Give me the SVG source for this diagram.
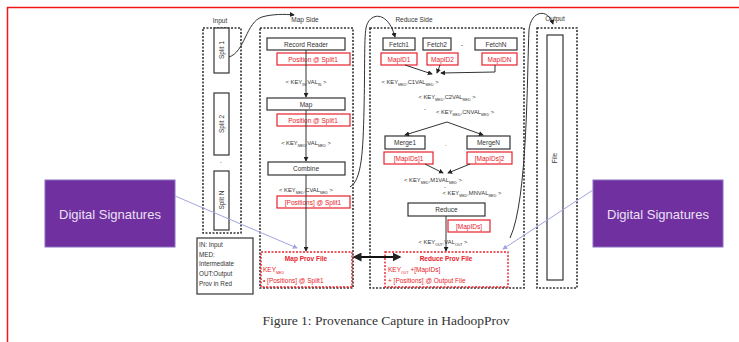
<svg xmlns="http://www.w3.org/2000/svg" width="739" height="342" viewBox="0 0 739 342">
<style>
text{font-family:"Liberation Sans",Arial,sans-serif;fill:#333;}
.lbl{font-size:6.5px;text-anchor:middle;}
.leg{font-size:6.3px;}
.box{fill:#fff;stroke:#333;stroke-width:1.2;}
.red{fill:#fff;stroke:#e8202a;stroke-width:1.2;}
.rt{fill:#e8202a;font-size:6.5px;text-anchor:middle;}
.rtl{fill:#e8202a;font-size:6.5px;text-anchor:start;}
.dash{fill:none;stroke:#333;stroke-width:1.6;stroke-dasharray:2 1.5;}
.rdash{fill:none;stroke:#e8202a;stroke-width:1.4;stroke-dasharray:2 1.5;}
.kv{font-size:5.8px;text-anchor:middle;}
.sub{font-size:3.6px;}
.ln{fill:none;stroke:#333;stroke-width:1;}
.sig{fill:#7030a0;stroke:#8a70c0;stroke-width:1;}
.sigt{fill:#ece0f4;font-size:13px;text-anchor:middle;}
.blue{fill:none;stroke:#a0a4e0;stroke-width:1;}
.cap{font-family:"Liberation Serif","Times New Roman",serif;font-size:13.5px;text-anchor:middle;fill:#333;}
</style>
<defs>
<marker id="ah" viewBox="0 0 6 6" refX="5" refY="3" markerWidth="5" markerHeight="5" orient="auto-start-reverse"><path d="M0,0 L6,3 L0,6 z" fill="#222"/></marker>
<marker id="bh" viewBox="0 0 6 6" refX="5" refY="3" markerWidth="5" markerHeight="5" orient="auto"><path d="M0,0 L6,3 L0,6 z" fill="#a0a4e0"/></marker>
</defs>
<rect x="0" y="0" width="739" height="342" fill="#fff"/>
<polyline points="7.5,342 7.5,7.5 739,7.5" fill="none" stroke="#f01818" stroke-width="1.5"/>

<g id="input">
<text x="220" y="23" class="lbl">Input</text>
<rect x="203" y="28" width="38" height="205" class="dash"/>
<rect x="214" y="28" width="15" height="45" class="box"/>
<text class="lbl" transform="translate(224,50) rotate(-90)">Split 1</text>
<rect x="214" y="93" width="15" height="62" class="box"/>
<text class="lbl" transform="translate(224,124) rotate(-90)">Split 2</text>
<text class="lbl" x="221" y="163">.</text>
<rect x="214" y="171" width="15" height="59" class="box"/>
<text class="lbl" transform="translate(224,200) rotate(-90)">Split N</text>
</g>

<g id="legend">
<rect x="197" y="238" width="56" height="56" class="box"/>
<text x="199" y="247" class="leg">IN: Input</text>
<text x="199" y="257" class="leg">MED:</text>
<text x="199" y="266" class="leg">Intermediate</text>
<text x="199" y="276" class="leg">OUT:Output</text>
<text x="199" y="286" class="leg">Prov in Red</text>
</g>

<g id="map-side">
<text x="305" y="22" class="lbl">Map Side</text>
<rect x="260" y="28" width="93" height="260" class="dash"/>
</g>
<g id="record-reader">
<rect x="267" y="38" width="78" height="12" class="box"/>
<text x="306" y="46.5" class="lbl">Record Reader</text>
<rect x="277" y="53" width="73" height="12" class="red"/>
<text x="313" y="61.5" class="rt">Position @ Split1</text>
</g>
<g id="map">
<rect x="267" y="98" width="78" height="12" class="box"/>
<text x="306" y="106.5" class="lbl">Map</text>
<rect x="277" y="114" width="73" height="12" class="red"/>
<text x="313" y="122.5" class="rt">Position @ Split1</text>
</g>
<g id="combine">
<rect x="268" y="162" width="77" height="13" class="box"/>
<text x="306" y="171" class="lbl">Combine</text>
<rect x="277" y="196" width="73" height="12" class="red"/>
<text x="313" y="204.5" class="rt">[Positions] @ Split1</text>
</g>
<g id="map-prov-file">
<rect x="261" y="252" width="91" height="35" class="rdash"/>
<text x="306" y="261" class="rt" font-weight="bold">Map Prov File</text>
<text x="263" y="272" class="rtl">KEY<tspan class="sub" dy="1.5">MED</tspan></text>
<text x="263" y="283" class="rtl">• [Positions] @ Split1</text>
</g>

<g id="reduce-side">
<text x="414" y="22" class="lbl">Reduce Side</text>
<rect x="370" y="28" width="154" height="260" class="dash"/>
</g>
<g id="fetch1">
<rect x="383" y="38" width="32" height="12" class="box"/>
<text x="399" y="46.5" class="lbl">Fetch1</text>
<rect x="381" y="53" width="36" height="12" class="red"/>
<text x="399" y="61.5" class="rt">MapID1</text>
</g>
<g id="fetch2">
<rect x="423" y="38" width="28" height="12" class="box"/>
<text x="437" y="46.5" class="lbl">Fetch2</text>
<rect x="427" y="53" width="31" height="12" class="red"/>
<text x="442.5" y="61.5" class="rt">MapID2</text>
</g>
<text x="462" y="47" class="lbl">-</text>
<g id="fetchN">
<rect x="475" y="38" width="42" height="12" class="box"/>
<text x="496" y="46.5" class="lbl">FetchN</text>
<rect x="482" y="53" width="35" height="12" class="red"/>
<text x="499.5" y="61.5" class="rt">MapIDN</text>
</g>
<g id="merge1">
<rect x="385" y="136" width="40" height="13" class="box"/>
<text x="405" y="145" class="lbl">Merge1</text>
<rect x="384" y="152" width="49" height="12" class="red"/>
<text x="408.5" y="160.5" class="rt">[MapIDs]1</text>
</g>
<text x="446" y="146" class="rt">.</text>
<g id="mergeN">
<rect x="467" y="136" width="43" height="13" class="box"/>
<text x="488.5" y="145" class="lbl">MergeN</text>
<rect x="467" y="152" width="45" height="12" class="red"/>
<text x="489.5" y="160.5" class="rt">[MapIDs]2</text>
</g>
<g id="reduce">
<rect x="408" y="203" width="77" height="13" class="box"/>
<text x="446.5" y="212" class="lbl">Reduce</text>
<rect x="448" y="220" width="42" height="12" class="red"/>
<text x="469" y="228.5" class="rt">[MapIDs]</text>
</g>
<g id="reduce-prov-file">
<rect x="385" y="252" width="123" height="35" class="rdash"/>
<text x="446" y="261" class="rt" font-weight="bold">Reduce Prov File</text>
<text x="388" y="272" class="rtl">KEY<tspan class="sub" dy="1.5">OUT</tspan><tspan dy="-1.5"> +[MapIDs]</tspan></text>
<text x="388" y="283" class="rtl">+ [Positions] @ Output File</text>
</g>

<g id="output">
<text x="555" y="21" class="lbl">Output</text>
<rect x="537" y="28" width="40" height="260" class="dash"/>
<rect x="547" y="35" width="16" height="245" class="box"/>
<text class="lbl" transform="translate(557,158) rotate(-90)">File</text>
</g>

<g id="sig-left">
<rect x="45" y="180" width="130" height="67" class="sig"/>
<text x="110" y="219" class="sigt">Digital Signatures</text>
</g>
<g id="sig-right">
<rect x="593" y="180" width="130" height="67" class="sig"/>
<text x="658" y="219" class="sigt">Digital Signatures</text>
</g>

<g id="labels">
<text x="306" y="84" class="kv">&lt; KEY<tspan class="sub" dy="1.5">IN</tspan><tspan dy="-1.5">,VAL</tspan><tspan class="sub" dy="1.5">IN</tspan><tspan dy="-1.5"> &gt;</tspan></text>
<text x="306" y="145" class="kv">&lt; KEY<tspan class="sub" dy="1.5">MED</tspan><tspan dy="-1.5">,VAL</tspan><tspan class="sub" dy="1.5">MED</tspan><tspan dy="-1.5"> &gt;</tspan></text>
<text x="306" y="192" class="kv">&lt; KEY<tspan class="sub" dy="1.5">MED</tspan><tspan dy="-1.5">,CVAL</tspan><tspan class="sub" dy="1.5">MED</tspan><tspan dy="-1.5"> &gt;</tspan></text>
<text x="410" y="84" class="kv">&lt; KEY<tspan class="sub" dy="1.5">MED</tspan><tspan dy="-1.5">,C1VAL</tspan><tspan class="sub" dy="1.5">MED</tspan><tspan dy="-1.5"> &gt;</tspan></text>
<text x="447" y="99" class="kv">&lt; KEY<tspan class="sub" dy="1.5">MED</tspan><tspan dy="-1.5">,C2VAL</tspan><tspan class="sub" dy="1.5">MED</tspan><tspan dy="-1.5"> &gt;</tspan></text>
<text x="425" y="111" class="kv">-</text>
<text x="465" y="114" class="kv">&lt; KEY<tspan class="sub" dy="1.5">MED</tspan><tspan dy="-1.5">,CNVAL</tspan><tspan class="sub" dy="1.5">MED</tspan><tspan dy="-1.5"> &gt;</tspan></text>
<text x="433" y="182" class="kv">&lt; KEY<tspan class="sub" dy="1.5">MED</tspan><tspan dy="-1.5">,M1VAL</tspan><tspan class="sub" dy="1.5">MED</tspan><tspan dy="-1.5"> &gt;</tspan></text>
<text x="445" y="189" class="kv">-</text>
<text x="472" y="195" class="kv">&lt; KEY<tspan class="sub" dy="1.5">MED</tspan><tspan dy="-1.5">,MNVAL</tspan><tspan class="sub" dy="1.5">MED</tspan><tspan dy="-1.5"> &gt;</tspan></text>
<text x="443" y="244" class="kv">&lt; KEY<tspan class="sub" dy="1.5">OUT</tspan><tspan dy="-1.5">,VAL</tspan><tspan class="sub" dy="1.5">OUT</tspan><tspan dy="-1.5"> &gt;</tspan></text>
</g>

<g id="connectors">
<line x1="306" y1="50" x2="306" y2="97" class="ln" marker-end="url(#ah)"/>
<line x1="306" y1="110" x2="306" y2="161" class="ln" marker-end="url(#ah)"/>
<line x1="306" y1="175" x2="306" y2="251" class="ln" marker-end="url(#ah)"/>
<line x1="446" y1="216" x2="446" y2="251" class="ln" marker-end="url(#ah)"/>
<line x1="354" y1="257" x2="400" y2="257" fill="none" stroke="#111" stroke-width="1.8" marker-start="url(#ah)" marker-end="url(#ah)"/>
<path d="M229,57 C245,52 246,22 262,17 C272,14 285,14 294,15" class="ln" marker-end="url(#ah)"/>
<path d="M350,187 C362,180 363,150 364,110 C365,70 364,40 366,28 C369,12 388,10 395,37" class="ln" marker-end="url(#ah)"/>
<path d="M510,238 C528,200 527,70 529,30 C531,10 548,8 553,24" class="ln" marker-end="url(#ah)"/>
<line x1="405" y1="65" x2="432" y2="74" class="ln" marker-end="url(#ah)"/>
<line x1="440" y1="65" x2="437" y2="73" class="ln" marker-end="url(#ah)"/>
<line x1="495" y1="65" x2="495" y2="72" class="ln"/>
<line x1="495" y1="72" x2="441" y2="73" class="ln" marker-end="url(#ah)"/>
<line x1="447" y1="122" x2="405" y2="135" class="ln" marker-end="url(#ah)"/>
<line x1="447" y1="122" x2="483" y2="135" class="ln" marker-end="url(#ah)"/>
<line x1="425" y1="164" x2="443" y2="173" class="ln" marker-end="url(#ah)"/>
<line x1="470" y1="164" x2="448" y2="173" class="ln" marker-end="url(#ah)"/>
<line x1="175" y1="196" x2="297" y2="248" class="blue" marker-end="url(#bh)"/>
<line x1="593" y1="190" x2="503" y2="249" class="blue" marker-end="url(#bh)"/>
</g>

<text x="386" y="325" class="cap">Figure 1: Provenance Capture in HadoopProv</text>
</svg>
